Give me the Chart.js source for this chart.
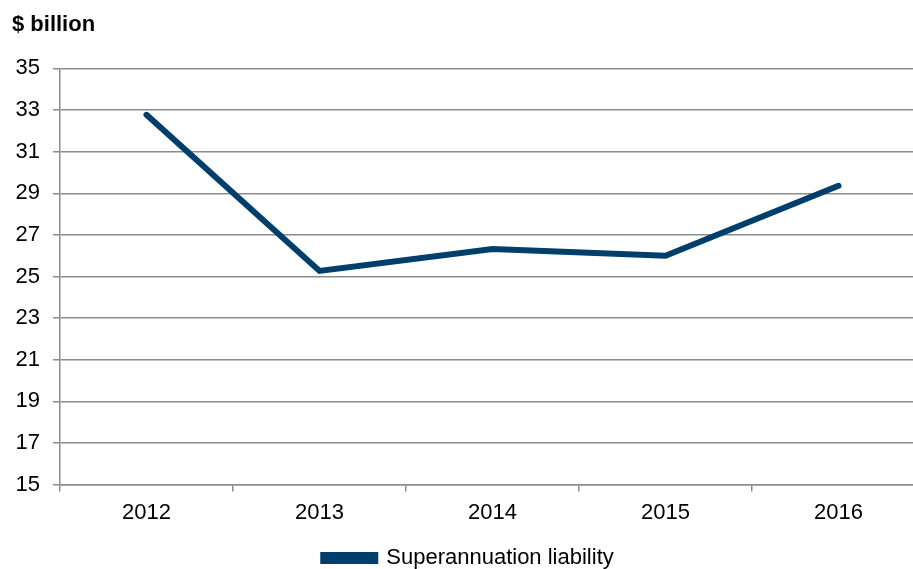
<!DOCTYPE html>
<html>
<head>
<meta charset="utf-8">
<script src="https://cdn.jsdelivr.net/npm/chart.js@4"></script>
<style>
  html, body { margin: 0; padding: 0; background: #fff; overflow: hidden; }
  #wrap { width: 928px; height: 569px; position: relative; }
</style>
</head>
<body>
<div id="wrap"><canvas id="chart"></canvas></div>
<script>
// data
const years = ["2012", "2013", "2014", "2015", "2016"];
const liability = [32.77, 25.27, 26.32, 26.0, 29.36];
const seriesName = "Superannuation liability";
const yMin = 15;
const yMax = 35;
const yStep = 2;

const navy = "#003e6b";
const gridGrey = "#8c8c8c";
const font = "'Liberation Sans', Arial, sans-serif";

const ctx = document.getElementById("chart").getContext("2d");

new Chart(ctx, {
  type: "line",
  data: {
    labels: years,
    datasets: [
      {
        label: seriesName,
        data: liability,
        borderColor: navy,
        backgroundColor: navy,
        borderWidth: 6,
        borderCapStyle: "round",
        borderJoinStyle: "miter",
        pointRadius: 0,
        tension: 0,
      },
    ],
  },
  options: {
    responsive: true,
    maintainAspectRatio: false,
    animation: false,
    layout: { padding: { left: 12, right: 3, top: 0, bottom: -10 } },
    plugins: {
      title: {
        display: true,
        text: "$ billion",
        align: "start",
        color: "#000",
        font: { family: font, size: 22, weight: "bold" },
        padding: { top: 12, bottom: 30 },
      },
      legend: {
        position: "bottom",
        labels: {
          color: "#000",
          font: { family: font, size: 22 },
          boxWidth: 52,
          boxHeight: 6,
          padding: 0,
        },
      },
      tooltip: { enabled: false },
    },
    scales: {
      x: {
        offset: true,
        grid: {
          offset: true,
          drawOnChartArea: false,
          drawTicks: true,
          tickLength: 7,
          color: gridGrey,
          lineWidth: 1.5,
        },
        border: { color: gridGrey, width: 1.5 },
        ticks: {
          color: "#000",
          font: { family: font, size: 22 },
          padding: 8,
          maxRotation: 0,
        },
        afterFit: function (scale) {
          scale.height += 13;
        },
      },
      y: {
        min: yMin,
        max: yMax,
        grid: {
          color: gridGrey,
          lineWidth: 1.5,
          tickLength: 7,
        },
        border: { color: gridGrey, width: 1.5 },
        ticks: {
          stepSize: yStep,
          color: "#000",
          font: { family: font, size: 22 },
          padding: 13,
        },
        afterFit: function (scale) {
          scale.width = 48;
        },
      },
    },
  },
});
</script>
</body>
</html>
